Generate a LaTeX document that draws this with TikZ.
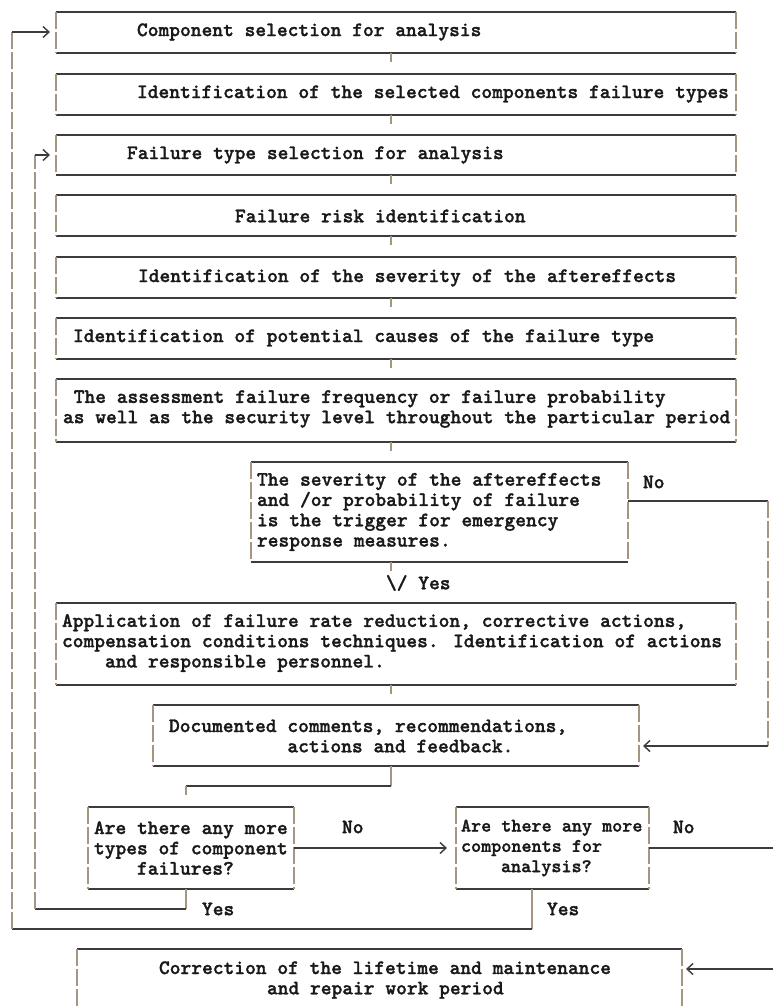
\documentclass[tikz,border=0pt]{standalone}
\usepackage{fontspec}
\usetikzlibrary{arrows.meta,calc}
\newfontfamily\courb{lmmonolt10-bold.otf}[FakeBold=1.3]
\definecolor{hl}{RGB}{60,60,60}
\definecolor{vl}{RGB}{165,150,130}
\definecolor{tx}{RGB}{25,25,25}
\newcommand\asciibox[5]{%
  \node[boxn, minimum width={#4-#2}, minimum height={#5-#3}] (#1) at ({(#2+#4)/2},{(#3+#5)/2}) {};
  \draw[hline] (#1.north west) -- (#1.north east);
  \draw[hline] (#1.south west) -- (#1.south east);
  \draw[vline] (#1.north west) -- (#1.south west);
  \draw[vline] (#1.north east) -- (#1.south east);
}
\begin{document}
\begin{tikzpicture}[x=1pt,y=-1pt,
  hline/.style={draw=hl, line width=1.6pt},
  vline/.style={draw=vl, line width=1.3pt, dash pattern=on 17pt off 3pt},
  tick/.style={draw=vl, line width=1.3pt},
  boxn/.style={inner sep=0pt, outer sep=0pt, rectangle},
  txt/.style={inner sep=0pt, outer sep=0pt, anchor=west, align=left, text=tx,
    font=\courb\fontsize{20.5}{20.3}\selectfont},
  tip/.style={-{Straight Barb[length=6pt,width=11pt,line width=1.4pt]}}
]
\useasboundingbox (0,0) rectangle (772,1006);
\fill[white] (0,0) rectangle (772,1006);

% boxes
\asciibox{b1}{56}{12}{736}{53}
\asciibox{b2}{56}{74}{736}{115}
\asciibox{b3}{56}{135}{736}{175}
\asciibox{b4}{56}{195}{736}{236}
\asciibox{b5}{56}{257}{736}{298}
\asciibox{b6}{56}{318}{736}{359}
\asciibox{b7}{56}{379}{736}{442}
\asciibox{b8}{251}{462}{628}{562}
\asciibox{b9}{56}{603}{736}{685}
\asciibox{b10}{153}{705}{639}{766}
\asciibox{b11}{88}{807}{294}{889}
\asciibox{b12}{456}{807}{649}{889}
\asciibox{b13}{77}{949}{682}{1020}

% texts
\node[txt] (t1) at (137,32) {Component selection for analysis};
\node[txt] (t2) at (137,94) {Identification of the selected components failure types};
\node[txt] (t3) at (127,155) {Failure type selection for analysis};
\node[txt] (t4) at (235,216) {Failure risk identification};
\node[txt] (t5) at (138,278) {Identification of the severity of the aftereffects};
\node[txt] (t6) at (73,338) {Identification of potential causes of the failure type};
\node[txt] (t7) at (63,409) {\hspace*{10.76pt}The assessment failure frequency or failure probability\\as well as the security level throughout the particular period};
\node[txt] (t8) at (257,512) {The severity of the aftereffects\\and /or probability of failure\\is the trigger for emergency\\response measures.};
\node[txt] (t9) at (62,643) {Application of failure rate reduction, corrective actions,\\compensation conditions techniques. Identification of actions\\\hspace*{43pt}and responsible personnel.};
\node[txt] (t10) at (169,736) {Documented comments, recommendations,\\\hspace*{118.4pt}actions and feedback.};
\node[txt] (t11) at (94,848) {Are there any more\\types of component\\\hspace*{43pt}failures?};
\node[txt, font=\courb\fontsize{19.2}{20.3}\selectfont] (t12) at (461,848) {Are there any more\\components for\\\hspace*{40pt}analysis?};
\node[txt] (t13) at (159,980) {Correction of the lifetime and maintenance\\\hspace*{108pt}and repair work period};

% labels
\node[txt] (no1) at (643,482) {No};
\node[txt] (yes1) at (386,583) {\textbackslash/ Yes};
\node[txt] (no2) at (342,827) {No};
\node[txt] (no3) at (673,827) {No};
\node[txt] (yes2) at (202,909) {Yes};
\node[txt] (yes3) at (547,909) {Yes};

% ticks between stacked boxes
\coordinate (cx) at (391,0);
\foreach \b in {b1,b2,b3,b4,b5,b6,b7,b8,b9}
  \draw[tick] (\b.south -| cx) -- ++(0,9);

% b10 -> b11
\coordinate (d1) at (391,786);
\coordinate (d2) at (186,786);
\coordinate (d3) at (186,795);
\draw[tick] (b10.south -| d1) -- (d1);
\draw[hline] (d1) -- (d2);
\draw[tick] (d2) -- (d3);

% No from b8 -> b10
\coordinate (n1) at (768,501);
\coordinate (n2) at (768,746);
\draw[hline] (b8.east |- n1) -- (n1);
\draw[vline] (n1) -- (n2);
\draw[hline,tip] (n2) -- ([xshift=4pt]b10.east |- n2);

% No from b11 -> b12
\draw[hline,tip] (b11.east) -- ([xshift=-9pt]b12.west);

% No from b12 -> b13
\coordinate (n3) at (775,848);
\coordinate (n4) at (775,969);
\draw[hline] (b12.east) -- (n3);
\draw[vline] (n3) -- (n4);
\draw[hline,tip] (n4) -- ([xshift=4pt]b13.east |- n4);

% Yes from b11 -> b3
\coordinate (y1) at (186,909);
\coordinate (y2) at (35,909);
\coordinate (y3) at (35,155);
\draw[tick] (b11.south -| y1) -- (y1);
\draw[hline] (y1) -- (y2);
\draw[vline] (y2) -- (y3);
\draw[hline,tip] (y3) -- ([xshift=-6pt]b3.west |- y3);

% Yes from b12 -> b1
\coordinate (y4) at (532,929);
\coordinate (y5) at (12,929);
\coordinate (y6) at (12,32);
\draw[tick] (b12.south -| y4) -- (y4);
\draw[hline] (y4) -- (y5);
\draw[vline] (y5) -- (y6);
\draw[hline,tip] (y6) -- ([xshift=-6pt]b1.west |- y6);
\end{tikzpicture}
\end{document}
